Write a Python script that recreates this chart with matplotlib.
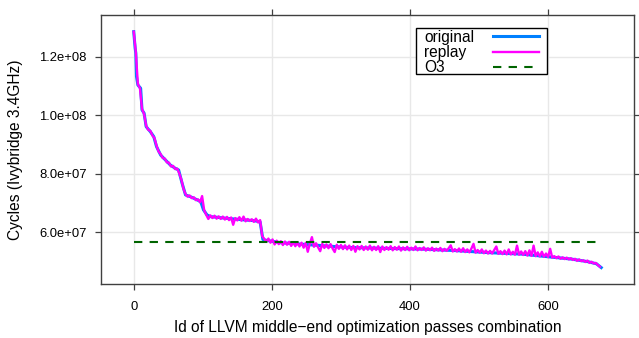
import matplotlib
matplotlib.use("Agg")
import matplotlib.pyplot as plt
from matplotlib.patches import Rectangle
import numpy as np

plt.rcParams['font.family'] = ['Liberation Sans', 'DejaVu Sans']

# original run (sorted), in millions of cycles
orig_id = [0, 2, 3, 4, 6, 10, 12, 15, 18, 24, 29, 33, 39, 46, 53, 60, 65, 70, 75, 82,
           92, 97, 101, 106, 111, 135, 159, 175, 183, 187, 192, 200, 212, 260, 308,
           356, 418, 466, 514, 562, 600, 634, 658, 670, 677]
orig_cycles = [128.5, 123.0, 121.2, 113.2, 110.3, 109.2, 101.8, 100.7, 96.1, 94.4,
               92.7, 89.3, 86.4, 84.7, 83.0, 81.9, 81.3, 76.8, 72.8, 72.2,
               71.1, 70.5, 67.7, 66.0, 65.4, 64.8, 64.3, 64.0, 63.6, 57.6, 57.3,
               57.0, 56.5, 55.7, 54.9, 54.6, 54.3, 53.8, 53.1, 52.6, 51.7, 50.9,
               50.0, 49.3, 48.0]

# replay run, every 3rd id, millions of cycles
replay_cycles = [
    128.5, 121.5, 110.6, 109.2, 102.1, 100.4, 96.4, 95.0, 94.7, 93.1,
    92.2, 89.6, 87.6, 86.7, 85.4, 85.2, 83.9, 83.8, 82.5, 82.7,
    81.6, 81.8, 80.1, 78.0, 74.9, 73.1, 72.2, 72.6, 71.7, 72.0,
    71.0, 71.3, 70.3, 72.4, 67.6, 66.0, 64.6, 65.8, 64.9, 65.7,
    64.7, 65.5, 64.6, 65.4, 64.4, 65.3, 64.2, 65.1, 62.6, 64.9,
    64.1, 65.2, 64.0, 65.4, 63.8, 64.6, 63.9, 64.5, 63.6, 64.7,
    63.4, 64.2, 58.8, 57.8, 56.8, 57.9, 56.5, 57.6, 55.9, 57.2,
    56.0, 57.0, 55.7, 56.9, 55.8, 56.8, 55.4, 56.7, 55.3, 56.6,
    55.2, 56.5, 54.8, 56.4, 53.4, 56.2, 58.4, 55.1, 56.3, 54.9,
    53.6, 56.1, 54.7, 55.9, 54.6, 56.0, 54.5, 53.3, 55.8, 54.4,
    55.7, 54.3, 55.6, 54.2, 55.5, 54.0, 55.4, 53.4, 55.3, 54.2,
    55.4, 54.0, 55.2, 54.1, 55.5, 53.9, 55.1, 54.0, 55.3, 53.3,
    55.2, 54.0, 55.0, 54.1, 55.3, 53.9, 55.0, 54.1, 55.2, 53.8,
    54.9, 54.0, 55.1, 53.9, 54.8, 54.0, 55.2, 53.9, 54.7, 54.0,
    54.9, 53.8, 54.6, 53.9, 54.8, 53.7, 54.5, 53.8, 54.7, 53.6,
    54.4, 53.7, 54.6, 55.6, 53.5, 54.3, 53.5, 54.5, 53.4, 54.6,
    53.3, 54.2, 53.2, 54.5, 56.1, 53.1, 54.0, 53.1, 54.2, 52.9,
    53.8, 52.8, 53.7, 52.8, 54.0, 55.2, 52.7, 53.6, 52.6, 53.8,
    52.5, 54.2, 52.5, 53.4, 52.4, 55.5, 52.4, 53.5, 52.3, 53.6,
    52.1, 53.9, 52.0, 55.5, 51.9, 53.2, 51.8, 53.4, 51.7, 52.8,
    51.6, 54.4, 51.4, 51.9, 51.2, 51.8, 51.0, 51.5, 50.9, 51.4,
    50.8, 51.2, 50.6, 51.0, 50.3, 50.8, 50.2, 50.5, 49.9, 50.4,
    49.6, 50.0, 49.4, 49.6, 48.9, 48.3,
]
replay_id = np.arange(len(replay_cycles)) * 3

o3_cycles = 56.9
x_ticks = [0, 200, 400, 600]
y_ticks = [60e6, 80e6, 100e6, 120e6]
y_labels = ['6.0e+07', '8.0e+07', '1.0e+08', '1.2e+08']

series_names = ['original', 'replay', 'O3']
series_colors = ['#0080ff', '#ff00ff', '#006400']
series_widths = [2.2, 1.7, 1.5]
series_dashes = [None, None, (4, 3.5)]

frame = '#404040'

fig = plt.figure(figsize=(6.39, 3.38), dpi=100)
ax = fig.add_axes([101 / 639, 1 - 284 / 338, 533 / 639, 269 / 338])

ax.grid(True, color='#e8e8e8', linewidth=1.0)
ax.set_axisbelow(True)

orig_x = np.array(orig_id)
ax.plot(orig_x, np.array(orig_cycles) * 1e6, color=series_colors[0],
        linewidth=series_widths[0], zorder=3)
ax.plot(replay_id, np.array(replay_cycles) * 1e6, color=series_colors[1],
        linewidth=series_widths[1], zorder=4)
ax.plot([0, orig_x[-1]], [o3_cycles * 1e6] * 2, color=series_colors[2],
        linewidth=series_widths[2], dashes=series_dashes[2], zorder=5)

ax.set_xlim(-47.4, 724.4)
ax.set_ylim(42.4e6, 134.2e6)
ax.set_xticks(x_ticks)
ax.set_yticks(y_ticks)
ax.set_yticklabels(y_labels)

for s in ax.spines.values():
    s.set_color(frame)
    s.set_linewidth(1.0)
ax.tick_params(direction='out', length=4.3, width=0.9, color=frame,
               labelsize=9.4, labelcolor='black', pad=6,
               top=True, right=True, labeltop=False, labelright=False)
ax.tick_params(axis='x', pad=8)

ax.set_xlabel('Id of LLVM middle\u2212end optimization passes combination',
              fontsize=11.2, labelpad=5)
ax.set_ylabel('Cycles (Ivybridge 3.4GHz)', fontsize=11.2, labelpad=12)

# lattice-style key: text first, line sample after
ax.add_patch(Rectangle((0.591, 0.781), 0.246, 0.171, transform=ax.transAxes,
                       facecolor='white', edgecolor='black', linewidth=1.0,
                       zorder=10, clip_on=False))
text_base = [0.901, 0.845, 0.788]
line_y = [0.923, 0.864, 0.808]
for name, col, lw, ds, ty, ly in zip(series_names, series_colors, series_widths,
                                      series_dashes, text_base, line_y):
    ax.text(0.606, ty, name, transform=ax.transAxes, fontsize=11.2,
            ha='left', va='baseline', zorder=11)
    ln, = ax.plot([0.735, 0.822], [ly, ly], transform=ax.transAxes, color=col,
                  linewidth=lw, zorder=11, clip_on=False)
    if ds:
        ln.set_dashes(ds)

fig.savefig('out.png', dpi=100)
